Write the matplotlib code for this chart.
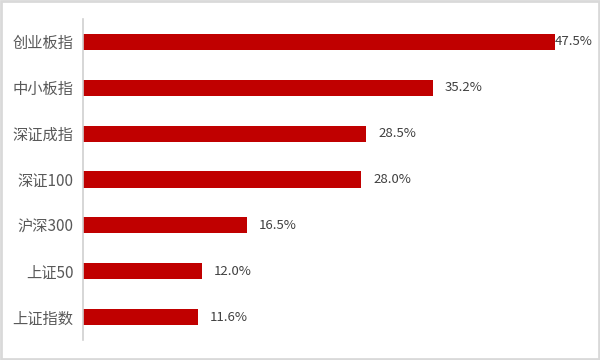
import matplotlib.pyplot as plt
from matplotlib.patches import Rectangle

plt.rcParams['font.family'] = ['Noto Sans CJK SC', 'DejaVu Sans']

# data, top to bottom as shown
names = ['创业板指', '中小板指', '深证成指', '深证100', '沪深300', '上证50', '上证指数']
values = [47.5, 35.2, 28.5, 28.0, 16.5, 12.0, 11.6]

fig = plt.figure(figsize=(6, 3.6), dpi=100)
ax = fig.add_axes([83 / 600, 20 / 360, 497 / 600, 321 / 360])

pos = list(range(len(names)))[::-1]
ax.barh(pos, values, height=0.35, color='#C00000')

for y, v in zip(pos, values):
    off = 0 if v == max(values) else 8.5
    ax.annotate(f'{v:.1f}%', (v, y), xytext=(off, 0), textcoords='offset points',
                va='center', ha='left', fontsize=9.5, color='#404040')

ax.set_xlim(0, 50)
ax.set_ylim(-0.5, len(names) - 0.5)
ax.set_yticks(pos)
ax.set_yticklabels(names, fontsize=11, color='#595959')
ax.set_xticks([])
ax.tick_params(axis='y', length=0, pad=7)
for s in ['top', 'right', 'bottom']:
    ax.spines[s].set_visible(False)
ax.spines['left'].set_color('#D0D0D0')
ax.spines['left'].set_linewidth(1.2)

# light grey frame around the whole picture
fig.patches.append(Rectangle((0.002, 0.003), 0.996, 0.994, transform=fig.transFigure,
                             fill=False, edgecolor='#D9D9D9', linewidth=2))

fig.savefig('out.png', dpi=100)
